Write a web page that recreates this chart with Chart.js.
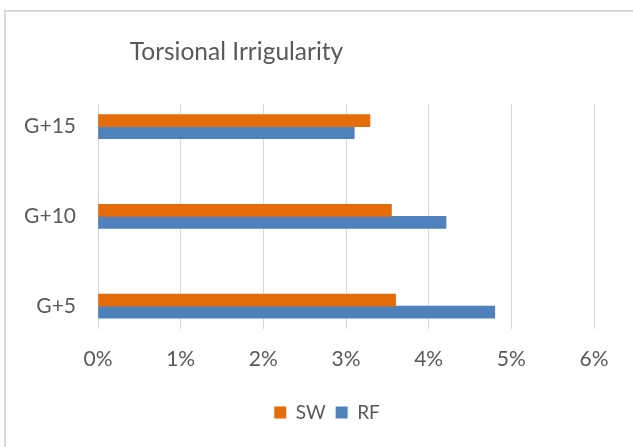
<!DOCTYPE html>
<html>
<head>
<meta charset="utf-8">
<script src="https://cdn.jsdelivr.net/npm/chart.js@4.4.1/dist/chart.umd.min.js"></script>
<style>
  body { margin: 0; background: #fff; overflow: hidden; }
  #frame {
    position: absolute; left: 4px; top: 10px; width: 700px; height: 500px;
    border-left: 2px solid #d9d9d9; border-top: 2px solid #d9d9d9;
  }
  #chart { position: absolute; left: 0; top: 0; }
  #title {
    position: absolute; left: 0; top: 36px; width: 473px;
    text-align: center; font: 24.5px Lato, sans-serif; line-height: 29px; color: #595959;
  }
</style>
</head>
<body>
<div id="frame"></div>
<canvas id="chart" width="633" height="447"></canvas>
<div id="title">Torsional Irrigularity</div>
<script>
// Torsional irrigularity per building height, values in percent
const categories = ['G+5', 'G+10', 'G+15'];
const swValues = [3.6, 3.55, 3.29];
const rfValues = [4.8, 4.21, 3.1];
const xTicks = [0, 1, 2, 3, 4, 5, 6];

const textColor = '#595959';

// categories sit on a linear y scale so the band spacing can match the original
function toPoints(values) {
    return values.map((v, i) => ({ x: v, y: i }));
}

const ctx = document.getElementById('chart').getContext('2d');
const chart = new Chart(ctx, {
    type: 'bar',
    data: {
        datasets: [{
            label: 'SW',
            data: toPoints(swValues),
            backgroundColor: '#e46c0a',
            borderWidth: 0,
            barThickness: 12
        }, {
            label: 'RF',
            data: toPoints(rfValues),
            backgroundColor: '#4f81bd',
            borderWidth: 0,
            barThickness: 12
        }]
    },
    options: {
        indexAxis: 'y',
        responsive: false,
        animation: false,
        layout: {
            padding: { left: 21, right: 0, top: 104, bottom: 15 }
        },
        scales: {
            x: {
                type: 'linear',
                min: xTicks[0],
                max: xTicks[xTicks.length - 1],
                afterFit: s => { s.height = 64; s.paddingRight = 39; },
                afterBuildTicks: s => { s.ticks = xTicks.map(v => ({ value: v })); },
                ticks: {
                    callback: v => v + '%',
                    color: textColor,
                    font: { family: 'Lato', size: 21 },
                    padding: 18,
                    maxRotation: 0
                },
                grid: { color: '#d9d9d9', lineWidth: 1, drawTicks: false },
                border: { display: false }
            },
            y: {
                type: 'linear',
                offset: false,
                min: -0.254,
                max: 2.252,
                afterFit: s => { s.width = 77; },
                afterBuildTicks: s => { s.ticks = categories.map((c, i) => ({ value: i })); },
                ticks: {
                    callback: v => categories[v],
                    color: textColor,
                    font: { family: 'Lato', size: 21 },
                    padding: 22
                },
                grid: { display: false, drawTicks: false },
                border: { display: false }
            }
        },
        plugins: {
            legend: {
                position: 'bottom',
                labels: {
                    color: textColor,
                    font: { family: 'Lato', size: 19 },
                    boxWidth: 12,
                    boxHeight: 12,
                    padding: 10
                }
            },
            tooltip: { enabled: false }
        }
    }
});
</script>
</body>
</html>
